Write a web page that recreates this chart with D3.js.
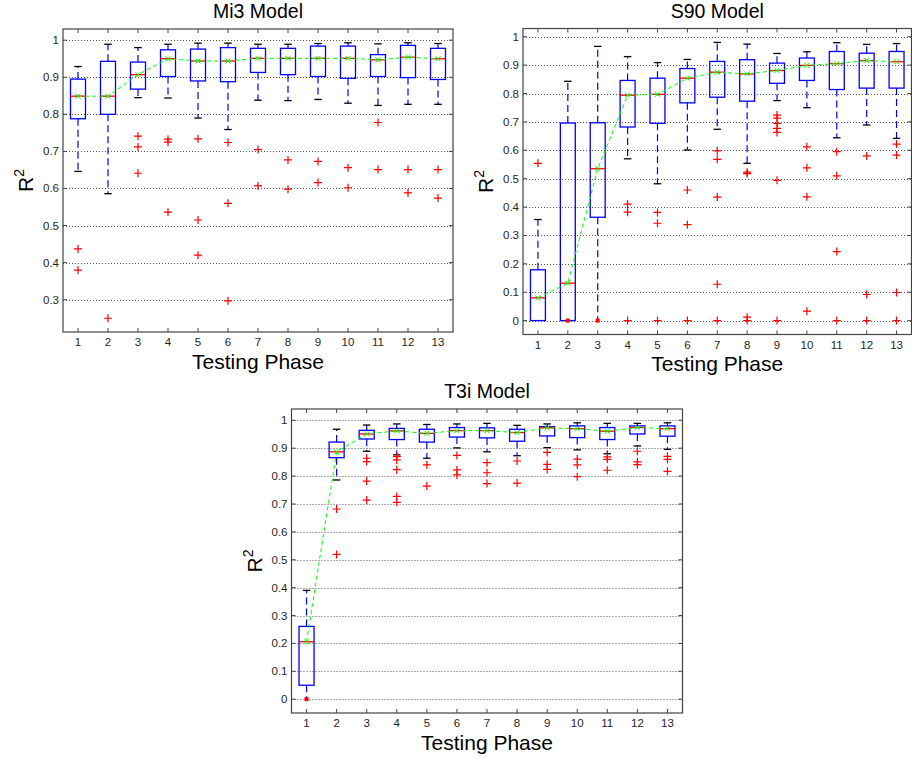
<!DOCTYPE html>
<html>
<head>
<meta charset="utf-8">
<script src="https://cdn.jsdelivr.net/npm/d3@7"></script>
<style>
  body { margin: 0; background: #fff; }
  svg { display: block; }
  text { font-family: "Liberation Sans", Arial, sans-serif; }
</style>
</head>
<body>
<svg id="fig" width="912" height="759"></svg>
<script>
// Testing phases shown on every x axis
const phases = d3.range(1, 14);

// ---- Mi3 model: box statistics per testing phase ----
const mi3Median = [0.849, 0.849, 0.907, 0.950, 0.944, 0.944, 0.951, 0.951, 0.951, 0.951, 0.947, 0.954, 0.950];
const mi3Q3     = [0.895, 0.943, 0.941, 0.974, 0.976, 0.980, 0.978, 0.978, 0.984, 0.984, 0.961, 0.986, 0.978];
const mi3Q1     = [0.788, 0.800, 0.868, 0.902, 0.890, 0.888, 0.913, 0.907, 0.902, 0.897, 0.902, 0.899, 0.894];
const mi3Upper  = [0.929, 0.989, 0.980, 0.989, 0.992, 0.992, 0.989, 0.989, 0.991, 0.993, 0.990, 0.993, 0.991];
const mi3Lower  = [0.646, 0.586, 0.845, 0.844, 0.790, 0.759, 0.838, 0.837, 0.840, 0.830, 0.824, 0.827, 0.827];
const mi3Outliers = [
  [0.437, 0.380], [0.250], [0.741, 0.712, 0.641], [0.733, 0.725, 0.536], [0.734, 0.515, 0.420],
  [0.724, 0.560, 0.297], [0.705, 0.607], [0.677, 0.598], [0.673, 0.616], [0.656, 0.602],
  [0.778, 0.651], [0.651, 0.588], [0.651, 0.574]
];
const mi3Dots = [];

// ---- S90 model ----
const s90Median = [0.080, 0.132, 0.535, 0.794, 0.797, 0.854, 0.875, 0.869, 0.881, 0.899, 0.905, 0.916, 0.912];
const s90Q3     = [0.179, 0.696, 0.697, 0.846, 0.854, 0.888, 0.913, 0.919, 0.907, 0.925, 0.948, 0.942, 0.948];
const s90Q1     = [0.000, 0.000, 0.364, 0.682, 0.695, 0.767, 0.787, 0.773, 0.836, 0.846, 0.814, 0.819, 0.819];
const s90Upper  = [0.356, 0.843, 0.966, 0.930, 0.909, 0.920, 0.980, 0.974, 0.941, 0.947, 0.979, 0.973, 0.976];
const s90Lower  = [0.000, 0.000, 0.000, 0.570, 0.482, 0.601, 0.674, 0.554, 0.775, 0.750, 0.644, 0.689, 0.642];
const s90Outliers = [
  [0.554], [], [], [0.410, 0.382, 0], [0.381, 0.343, 0], [0.460, 0.338, 0],
  [0.598, 0.568, 0.435, 0.128, 0], [0.523, 0.518, 0.012, 0],
  [0.724, 0.713, 0.695, 0.677, 0.663, 0.494, 0], [0.612, 0.538, 0.436, 0.033],
  [0.595, 0.510, 0.243, 0], [0.580, 0.092, 0], [0.622, 0.583, 0.099, 0]
];
const s90Dots = [[2, 0], [3, 0]];

// ---- T3i model ----
const t3iMedian = [0.206, 0.887, 0.951, 0.962, 0.953, 0.963, 0.963, 0.956, 0.973, 0.970, 0.961, 0.974, 0.970];
const t3iQ3     = [0.261, 0.922, 0.964, 0.971, 0.968, 0.974, 0.973, 0.968, 0.977, 0.980, 0.974, 0.980, 0.980];
const t3iQ1     = [0.050, 0.866, 0.933, 0.931, 0.922, 0.940, 0.937, 0.925, 0.944, 0.938, 0.931, 0.951, 0.943];
const t3iUpper  = [0.390, 0.968, 0.983, 0.987, 0.985, 0.987, 0.989, 0.982, 0.987, 0.991, 0.989, 0.989, 0.991];
const t3iLower  = [0.000, 0.786, 0.889, 0.876, 0.864, 0.901, 0.887, 0.873, 0.902, 0.894, 0.880, 0.908, 0.896];
const t3iOutliers = [
  [], [0.682, 0.519], [0.864, 0.852, 0.782, 0.714], [0.870, 0.858, 0.823, 0.727, 0.706],
  [0.840, 0.764], [0.874, 0.822, 0.804], [0.848, 0.812, 0.773], [0.854, 0.775],
  [0.885, 0.842, 0.824], [0.861, 0.840, 0.798], [0.869, 0.860, 0.821],
  [0.889, 0.851, 0.841], [0.871, 0.860, 0.817]
];
const t3iDots = [[1, 0]];

const panels = [
  { title: "Mi3 Model", left: 63, right: 453, top: 29, bottom: 332,
    median: mi3Median, q1: mi3Q1, q3: mi3Q3, upper: mi3Upper, lower: mi3Lower, outliers: mi3Outliers, dots: mi3Dots },
  { title: "S90 Model", left: 523, right: 911.5, top: 28.5, bottom: 334.5,
    median: s90Median, q1: s90Q1, q3: s90Q3, upper: s90Upper, lower: s90Lower, outliers: s90Outliers, dots: s90Dots },
  { title: "T3i Model", left: 291.5, right: 682.5, top: 409, bottom: 713,
    median: t3iMedian, q1: t3iQ1, q3: t3iQ3, upper: t3iUpper, lower: t3iLower, outliers: t3iOutliers, dots: t3iDots }
];

const svg = d3.select("#fig");
const fmt = d => String(+d.toFixed(1));

function drawPanel(p) {
  const g = svg.append("g");
  const all = [].concat(p.upper, p.lower, ...p.outliers);
  const lo = d3.min(all), hi = d3.max(all), pad = 0.05 * (hi - lo);

  const x = d3.scaleLinear().domain([0.5, 13.5]).range([p.left, p.right]);
  const y = d3.scaleLinear().domain([lo - pad, hi + pad]).range([p.bottom, p.top]);
  const yTicks = y.ticks(10);
  const bw = (x(1.25) - x(1)); // half box width
  const cw = (x(1.125) - x(1)); // half cap width

  // horizontal dotted grid
  g.append("g").selectAll("line").data(yTicks).join("line")
    .attr("x1", p.left).attr("x2", p.right)
    .attr("y1", d => Math.round(y(d)) + 0.5).attr("y2", d => Math.round(y(d)) + 0.5)
    .attr("stroke", "#555").attr("stroke-width", 1).attr("stroke-dasharray", "1,2");

  // axes frame and inward ticks
  g.append("rect").attr("x", p.left).attr("y", p.top)
    .attr("width", p.right - p.left).attr("height", p.bottom - p.top)
    .attr("fill", "none").attr("stroke", "#444").attr("stroke-width", 1.2);
  const tk = g.append("g").attr("stroke", "#444").attr("stroke-width", 1);
  phases.forEach(ph => {
    tk.append("line").attr("x1", x(ph)).attr("x2", x(ph)).attr("y1", p.bottom).attr("y2", p.bottom - 4);
    tk.append("line").attr("x1", x(ph)).attr("x2", x(ph)).attr("y1", p.top).attr("y2", p.top + 4);
  });
  yTicks.forEach(t => {
    tk.append("line").attr("x1", p.left).attr("x2", p.left + 4).attr("y1", y(t)).attr("y2", y(t));
    tk.append("line").attr("x1", p.right).attr("x2", p.right - 4).attr("y1", y(t)).attr("y2", y(t));
  });

  // tick labels
  g.append("g").selectAll("text").data(phases).join("text")
    .attr("x", d => x(d)).attr("y", p.bottom + 14)
    .attr("text-anchor", "middle").attr("font-size", 11.5).attr("fill", "#262626")
    .text(d => d);
  g.append("g").selectAll("text").data(yTicks).join("text")
    .attr("x", p.left - 4).attr("y", d => y(d)).attr("dy", "0.35em")
    .attr("text-anchor", "end").attr("font-size", 11.5).attr("fill", "#262626")
    .text(fmt);

  // titles
  const cx = (p.left + p.right) / 2;
  g.append("text").attr("x", cx).attr("y", p.top - 11).attr("text-anchor", "middle")
    .attr("font-size", 19.5).attr("fill", "#000").text(p.title);
  g.append("text").attr("x", cx).attr("y", p.bottom + 36.5).attr("text-anchor", "middle")
    .attr("font-size", 21).attr("fill", "#000").text("Testing Phase");
  const yl = g.append("text")
    .attr("transform", `translate(${p.left - 30},${(p.top + p.bottom) / 2}) rotate(-90)`)
    .attr("text-anchor", "middle").attr("font-size", 21).attr("fill", "#000");
  yl.append("tspan").text("R");
  yl.append("tspan").attr("font-size", 14).attr("dy", -9).text("2");

  const dotAt = (ph, v) => p.dots.some(d => d[0] === ph && d[1] === v);

  // boxes
  phases.forEach((ph, i) => {
    const xc = x(ph);
    const b = g.append("g");
    // whiskers
    if (p.upper[i] > p.q3[i])
      b.append("line").attr("x1", xc).attr("x2", xc).attr("y1", y(p.q3[i])).attr("y2", y(p.upper[i]))
        .attr("stroke", "#0000ff").attr("stroke-width", 1.2).attr("stroke-dasharray", "7,4");
    if (p.lower[i] < p.q1[i])
      b.append("line").attr("x1", xc).attr("x2", xc).attr("y1", y(p.q1[i])).attr("y2", y(p.lower[i]))
        .attr("stroke", "#0000ff").attr("stroke-width", 1.2).attr("stroke-dasharray", "7,4");
    // caps
    [p.upper[i], p.lower[i]].forEach(v => {
      if (dotAt(ph, v) || v === p.q1[i] || v === p.q3[i]) return;
      b.append("line").attr("x1", xc - cw).attr("x2", xc + cw).attr("y1", y(v)).attr("y2", y(v))
        .attr("stroke", "#000").attr("stroke-width", 1.3);
    });
    // box
    b.append("rect").attr("x", xc - bw).attr("y", y(p.q3[i]))
      .attr("width", 2 * bw).attr("height", y(p.q1[i]) - y(p.q3[i]))
      .attr("fill", "none").attr("stroke", "#0000ff").attr("stroke-width", 1.3);
    // median
    b.append("line").attr("x1", xc - bw).attr("x2", xc + bw)
      .attr("y1", y(p.median[i])).attr("y2", y(p.median[i]))
      .attr("stroke", "#ff0000").attr("stroke-width", 1.3);
    // outliers
    p.outliers[i].forEach(v => {
      if (dotAt(ph, v)) return;
      const oy = y(v);
      b.append("path").attr("d", `M${xc - 4},${oy}h8M${xc},${oy - 4}v8`)
        .attr("stroke", "#ff0000").attr("stroke-width", 1.2).attr("fill", "none");
    });
  });

  // single-point outliers drawn as dots
  g.append("g").selectAll("rect").data(p.dots).join("rect")
    .attr("x", d => x(d[0]) - 2).attr("y", d => y(d[1]) - 2)
    .attr("width", 4).attr("height", 4).attr("fill", "#ff0000");

  // green dashed trend through the medians, with x markers
  const line = d3.line().x((d, i) => x(phases[i])).y(d => y(d));
  g.append("path").datum(p.median).attr("d", line)
    .attr("fill", "none").attr("stroke", "#00ff00").attr("stroke-width", 1)
    .attr("stroke-dasharray", "4,3");
  g.append("g").selectAll("path").data(p.median).join("path")
    .attr("d", (d, i) => {
      const mx = x(phases[i]), my = y(d);
      return `M${mx - 2.5},${my - 2.5}L${mx + 2.5},${my + 2.5}M${mx - 2.5},${my + 2.5}L${mx + 2.5},${my - 2.5}`;
    })
    .attr("stroke", "#00ff00").attr("stroke-width", 1).attr("fill", "none");
}

panels.forEach(drawPanel);
</script>
</body>
</html>
